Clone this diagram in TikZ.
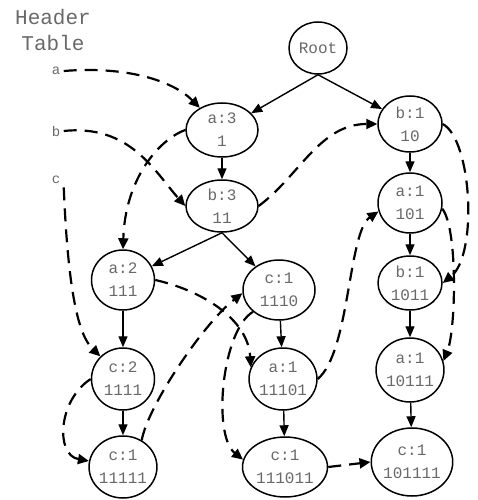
\documentclass[tikz,border=0pt]{standalone}
\usepackage{fontspec}
\setmonofont{Liberation Mono}
\usetikzlibrary{shapes.geometric,arrows.meta}
\definecolor{txtgray}{RGB}{105,105,105}
\begin{document}
\begin{tikzpicture}[x=1pt,y=-1pt,
  fpnode/.style={ellipse,draw=black,line width=1.5pt,inner sep=0pt,align=center,
    text=txtgray,font=\ttfamily\fontsize{16}{23}\selectfont},
  tree/.style={draw,line width=1.4pt,-{Triangle[length=11pt,width=9pt]}},
  link/.style={draw,line width=2.2pt,dash pattern=on 13pt off 8pt,
    -{Triangle[length=11pt,width=10pt]}},
  hdr/.style={text=txtgray,font=\ttfamily\fontsize{14}{16}\selectfont}]
\useasboundingbox (0,0) rectangle (477,500);

% header table
\node[text=txtgray,align=center,font=\ttfamily\fontsize{21}{26}\selectfont] (ht) at (53,30) {Header\\Table};
\node[hdr] (ha) at (56,71) {a};
\node[hdr] (hb) at (56,131) {b};
\node[hdr] (hc) at (56,180) {c};

% FP-tree nodes
\node[fpnode,minimum width=58pt,minimum height=52pt] (root) at (318,48) {Root};
\node[fpnode,minimum width=72pt,minimum height=54pt] (a3) at (222,130) {a:3\\1};
\node[fpnode,minimum width=72pt,minimum height=52pt] (b3) at (222,206) {b:3\\11};
\node[fpnode,minimum width=64pt,minimum height=56pt] (b1a) at (410,124) {b:1\\10};
\node[fpnode,minimum width=64pt,minimum height=60pt] (a1b) at (410,203) {a:1\\101};
\node[fpnode,minimum width=63pt,minimum height=60pt] (a2) at (123,280) {a:2\\111};
\node[fpnode,minimum width=72pt,minimum height=60pt] (c1a) at (279,290) {c:1\\1110};
\node[fpnode,minimum width=64pt,minimum height=54pt] (b1c) at (410,283) {b:1\\1011};
\node[fpnode,minimum width=63pt,minimum height=62pt] (c2) at (123,379) {c:2\\1111};
\node[fpnode,minimum width=67pt,minimum height=62pt] (a1c) at (283,379) {a:1\\11101};
\node[fpnode,minimum width=66pt,minimum height=64pt] (a1d) at (410,370) {a:1\\10111};
\node[fpnode,minimum width=63pt,minimum height=62pt] (c1b) at (123,467) {c:1\\11111};
\node[fpnode,minimum width=85pt,minimum height=60pt] (c1c) at (285,467) {c:1\\111011};
\node[fpnode,minimum width=80pt,minimum height=68pt] (c1d) at (412,462) {c:1\\101111};

% tree edges
\draw[tree] (root.south) -- (a3);
\draw[tree] (root.south) -- (b1a);
\draw[tree] (a3) -- (b3);
\draw[tree] (b3.south) -- (a2);
\draw[tree] (b3.south) -- (c1a);
\draw[tree] (b1a) -- (a1b);
\draw[tree] (a1b) -- (b1c);
\draw[tree] (b1c) -- (a1d);
\draw[tree] (a1d) -- (c1d);
\draw[tree] (a2) -- (c2);
\draw[tree] (c2) -- (c1b);
\draw[tree] (c1a) -- (a1c);
\draw[tree] (a1c) -- (c1c);

% node-links
\draw[link] (ha.east) .. controls (125,66) and (172,80) .. (a3.135);
\draw[link] (hb.east) .. controls (130,124) and (155,172) .. (b3.west);
\draw[link] (hc.south east) .. controls (68,290) and (78,335) .. (c2.135);
\draw[link] (a3.west) .. controls (158,140) and (125,180) .. (a2.north);
\draw[link] (b3.east) .. controls (300,175) and (320,124) .. (b1a.west);
\draw[link] (a2.east) .. controls (200,290) and (248,318) .. (a1c.160);
\draw[link] (c2.west) .. controls (58,400) and (55,455) .. (c1b.170);
\draw[link] (c1b.55) .. controls (148,405) and (205,322) .. (c1a.185);
\draw[link] (c1a.220) .. controls (222,330) and (212,435) .. (c1c.170);
\draw[link] (c1c.east) -- (c1d.west);
\draw[link] (a1c.east) .. controls (350,352) and (348,232) .. (a1b.195);
\draw[link] (a1b.350) .. controls (458,228) and (456,330) .. (a1d.15);
\draw[link] (b1a.east) .. controls (472,140) and (478,255) .. (b1c.east);
\end{tikzpicture}
\end{document}
